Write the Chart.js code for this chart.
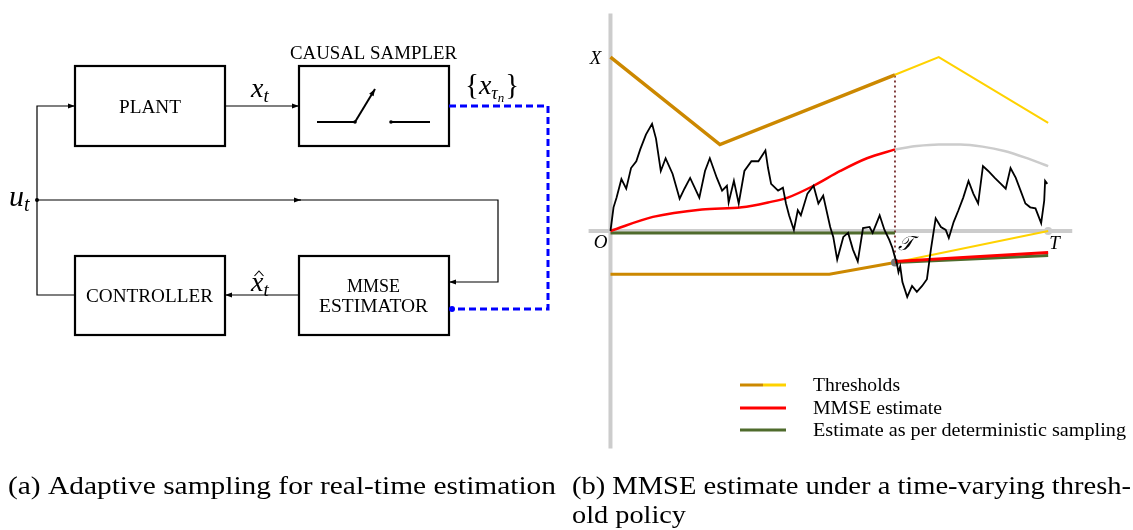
<!DOCTYPE html>
<html>
<head>
<meta charset="utf-8">
<script src="https://cdn.jsdelivr.net/npm/chart.js@4.4.1/dist/chart.umd.min.js"></script>
<style>
  html, body { margin: 0; padding: 0; background: #fff; }
  #wrap { position: relative; width: 1133px; height: 530px; overflow: hidden; }
  #bg { position: absolute; left: 0; top: 0; }
  #chartBox { position: absolute; left: 570px; top: 0; width: 563px; height: 460px; }
</style>
</head>
<body>
<div id="wrap">
<canvas id="bg" width="1133" height="530"></canvas>
<div id="chartBox"><canvas id="myChart" width="563" height="460"></canvas></div>
</div>

<script>
// time axis runs 0 (O) .. 1 (T), values scaled so the threshold start X = 1
const tau = 0.65;

// thresholds, before tau (dark) and after tau (light)
const upperDarkT = [0, 0.25, tau];
const upperDarkV = [1.0, 0.497, 0.898];
const upperLightT = [tau, 0.75, 1.0];
const upperLightV = [0.898, 1.0, 0.622];
const lowerDarkT = [0, 0.5, tau];
const lowerDarkV = [-0.249, -0.249, -0.181];
const lowerLightT = [tau, 1.0];
const lowerLightV = [-0.181, 0];

// MMSE estimate before the sample, and its (unused) continuation
const mmseT = [0, 0.097, 0.209, 0.3, 0.36, 0.405, 0.464, 0.525, 0.586, tau];
const mmseV = [0, 0.081, 0.124, 0.136, 0.164, 0.192, 0.26, 0.345, 0.418, 0.469];
const mmseGhostT = [tau, 0.7, 0.75, 0.8, 0.85, 0.9, 0.95, 1.0];
const mmseGhostV = [0.469, 0.488, 0.497, 0.497, 0.485, 0.46, 0.42, 0.373];

// estimates after the sample at tau
const mmseAfterT = [tau, 1.0];
const mmseAfterV = [-0.175, -0.124];
const detBeforeT = [0, tau];
const detBeforeV = [-0.012, -0.012];
const detAfterT = [tau, 1.0];
const detAfterV = [-0.181, -0.141];

// the process path x_t
const pathT = [0, 0.007, 0.014, 0.025, 0.036, 0.047, 0.059, 0.068, 0.081, 0.095, 0.104, 0.115, 0.126, 0.142,
  0.158, 0.169, 0.182, 0.203, 0.216, 0.227, 0.243, 0.255, 0.266, 0.270, 0.282, 0.293, 0.306, 0.322, 0.338,
  0.354, 0.360, 0.367, 0.383, 0.394, 0.401, 0.408, 0.419, 0.428, 0.435, 0.450, 0.464, 0.475, 0.486, 0.502,
  0.509, 0.518, 0.532, 0.543, 0.554, 0.565, 0.577, 0.592, 0.599, 0.615, 0.626, 0.637, 0.644, 0.651, 0.653,
  0.658, 0.662, 0.667, 0.678, 0.689, 0.700, 0.712, 0.723, 0.732, 0.743, 0.755, 0.766, 0.773, 0.784, 0.795,
  0.806, 0.818, 0.829, 0.840, 0.851, 0.863, 0.878, 0.892, 0.903, 0.914, 0.926, 0.937, 0.948, 0.959, 0.971,
  0.984, 0.991, 0.993, 0.998];
const pathV = [0, 0.136, 0.192, 0.299, 0.243, 0.362, 0.401, 0.469, 0.554, 0.616, 0.531, 0.345, 0.418, 0.328,
  0.186, 0.243, 0.305, 0.192, 0.345, 0.418, 0.305, 0.232, 0.260, 0.164, 0.288, 0.158, 0.345, 0.401, 0.401,
  0.463, 0.362, 0.271, 0.232, 0.249, 0.158, 0.090, 0.006, 0.119, 0.090, 0.215, 0.260, 0.158, 0.203, 0.023,
  -0.034, -0.164, -0.034, -0.011, -0.107, -0.175, 0.017, 0.023, -0.011, 0.090, 0.006, -0.051, -0.096, -0.16, -0.17,
  -0.237, -0.203, -0.294, -0.379, -0.316, -0.350, -0.316, -0.277, -0.107, 0.073, 0.023, 0.006, -0.040, 0.051, 0.119,
  0.192, 0.288, 0.215, 0.158, 0.373, 0.345, 0.305, 0.271, 0.243, 0.362, 0.305, 0.232, 0.158, 0.136, 0.130,
  0.045, 0.175, 0.288, 0.271];

// axes drawn as thick grey lines
const axisVT = [0, 0];
const axisVV = [-1.25, 1.25];
const axisHT = [-0.05, 1.055];
const axisHV = [0, 0];

const legendLabels = ["Thresholds", "MMSE estimate", "Estimate as per deterministic sampling"];

const DARK = "#cc8800";
const LIGHT = "#ffd200";
const RED = "#ff0000";
const GREEN = "#4f6b2c";
const GREY = "#cccccc";
const SERIF = '"Liberation Serif", "DejaVu Serif", serif';

// ---------- block diagram (a) and captions, plain canvas ----------
const g = document.getElementById("bg").getContext("2d");

function fitText(s, x, y, w, size, italic) {
  g.font = (italic ? "italic " : "") + size + "px " + SERIF;
  const m = g.measureText(s).width;
  g.save();
  g.translate(x, y);
  g.scale(w / m, 1);
  g.fillText(s, 0, 0);
  g.restore();
}

function wire(points, arrow) {
  g.beginPath();
  g.moveTo(points[0][0], points[0][1]);
  for (let i = 1; i < points.length; i++) g.lineTo(points[i][0], points[i][1]);
  g.stroke();
  if (arrow) {
    const [x1, y1] = points[points.length - 2];
    const [x2, y2] = points[points.length - 1];
    const a = Math.atan2(y2 - y1, x2 - x1);
    g.beginPath();
    g.moveTo(x2, y2);
    g.lineTo(x2 - 7 * Math.cos(a) + 2.6 * Math.sin(a), y2 - 7 * Math.sin(a) - 2.6 * Math.cos(a));
    g.lineTo(x2 - 7 * Math.cos(a) - 2.6 * Math.sin(a), y2 - 7 * Math.sin(a) + 2.6 * Math.cos(a));
    g.closePath();
    g.fill();
  }
}

g.fillStyle = "#000";
g.strokeStyle = "#000";
g.lineWidth = 2.2;
[[75, 66, 150, 80], [299, 66, 150, 80], [75, 256, 150, 79], [299, 256, 150, 79]].forEach(r => g.strokeRect(...r));

g.lineWidth = 1.2;
wire([[75, 295], [37, 295], [37, 106], [75, 106]], true);
wire([[225, 106], [299, 106]], true);
wire([[37, 200], [301, 200]], true);
wire([[299, 200], [498, 200], [498, 282], [449, 282]], true);
wire([[299, 295], [225, 295]], true);
g.beginPath(); g.arc(37, 200, 2, 0, 2 * Math.PI); g.fill();

// sampled channel
g.save();
g.strokeStyle = "#0000ff";
g.fillStyle = "#0000ff";
g.lineWidth = 3;
g.setLineDash([7, 4]);
wire([[449, 106], [548, 106], [548, 309], [453, 309]], false);
g.setLineDash([]);
g.beginPath(); g.arc(452, 309, 3, 0, 2 * Math.PI); g.fill();
g.restore();

// switch symbol
g.lineWidth = 2;
wire([[317, 122], [355, 122]], false);
wire([[391, 122], [430, 122]], false);
wire([[355, 122], [375, 89]], true);
g.beginPath(); g.arc(355, 122, 1.8, 0, 2 * Math.PI); g.fill();
g.beginPath(); g.arc(391, 122, 1.8, 0, 2 * Math.PI); g.fill();

// block labels
g.textBaseline = "alphabetic";
fitText("CAUSAL SAMPLER", 290, 59, 167, 18);
fitText("PLANT", 119, 113, 62, 19);
fitText("CONTROLLER", 86, 302, 127, 19);
fitText("MMSE", 347, 292, 53, 19);
fitText("ESTIMATOR", 319, 312, 109, 19);

// math labels
function sub(base, s, x, y, size, ssize) {
  g.font = "italic " + size + "px " + SERIF;
  g.fillText(base, x, y);
  const w = g.measureText(base).width;
  g.font = "italic " + ssize + "px " + SERIF;
  g.fillText(s, x + w, y + size * 0.18);
  return x + w + g.measureText(s).width;
}
sub("x", "t", 251, 97, 28, 19);
sub("x", "t", 251, 291, 28, 19);
g.lineWidth = 1.1;
wire([[254.5, 276], [259, 271], [263.5, 276]], false);
sub("u", "t", 9, 206, 30, 20);

g.font = "29px " + SERIF;
g.fillText("{", 465, 94);
let cx = 465 + g.measureText("{").width;
cx = sub("x", "τ", cx, 94, 28, 18);
g.font = "italic 13px " + SERIF;
g.fillText("n", cx, 102);
cx += g.measureText("n").width + 1;
g.font = "29px " + SERIF;
g.fillText("}", cx, 94);

// captions
fitText("(a) Adaptive sampling for real-time estimation", 8, 494, 548, 26);
fitText("(b) MMSE estimate under a time-varying thresh-", 572, 494, 559, 26);
fitText("old policy", 572, 523, 114, 26);

// ---------- chart (b) ----------
function pts(ts, vs) {
  return ts.map((t, i) => ({ x: t, y: vs[i] }));
}

function line(data, color, width, order, extra) {
  return Object.assign({
    data: data,
    showLine: true,
    borderColor: color,
    backgroundColor: color,
    borderWidth: width,
    pointRadius: 0,
    tension: 0,
    fill: false,
    order: order,
  }, extra || {});
}

// text labels and legend drawn on top
const labelPlugin = {
  id: "labels",
  afterDatasetsDraw(chart) {
    const { ctx, scales: { x, y } } = chart;
    ctx.save();
    ctx.fillStyle = "#000";
    ctx.font = "italic 19px " + SERIF;
    ctx.textBaseline = "alphabetic";
    ctx.textAlign = "right";
    ctx.fillText("X", x.getPixelForValue(0) - 9, y.getPixelForValue(1) + 7);
    ctx.fillText("O", x.getPixelForValue(0) - 3, y.getPixelForValue(0) + 17);
    ctx.textAlign = "left";
    ctx.font = "italic 20px " + SERIF;
    ctx.fillText("\u{1D4AF}", x.getPixelForValue(tau) + 3, y.getPixelForValue(0) + 19);
    ctx.font = "italic 19px " + SERIF;
    ctx.fillText("T", x.getPixelForValue(1) + 1, y.getPixelForValue(0) + 18);

    // legend
    const lx = 170, rows = [385, 408, 430];
    ctx.lineWidth = 3;
    ctx.lineCap = "butt";
    const seg = (x0, x1, yy, c) => {
      ctx.strokeStyle = c;
      ctx.beginPath();
      ctx.moveTo(x0, yy);
      ctx.lineTo(x1, yy);
      ctx.stroke();
    };
    seg(lx, lx + 23, rows[0], DARK);
    seg(lx + 23, lx + 46, rows[0], LIGHT);
    seg(lx, lx + 46, rows[1], RED);
    seg(lx, lx + 46, rows[2], GREEN);

    ctx.font = "18px " + SERIF;
    ctx.textBaseline = "middle";
    const targets = [87, 129, 313];
    legendLabels.forEach((s, i) => {
      const w = ctx.measureText(s).width;
      ctx.save();
      ctx.translate(lx + 73, rows[i] + 1);
      ctx.scale(targets[i] / w, 1);
      ctx.fillText(s, 0, 0);
      ctx.restore();
    });
    ctx.restore();
  }
};

new Chart(document.getElementById("myChart"), {
  type: "scatter",
  data: {
    datasets: [
      line(pts(pathT, pathV), "#000", 1.8, 1),
      line(pts(mmseAfterT, mmseAfterV), RED, 3, 2),
      line(pts(detAfterT, detAfterV), GREEN, 3, 3),
      line(pts([tau], [-0.181]), "#777", 0, 4, { showLine: false, pointRadius: 4, pointBackgroundColor: "#777", pointBorderWidth: 0 }),
      line(pts(mmseT, mmseV), RED, 2.5, 5, { cubicInterpolationMode: "monotone" }),
      line(pts(mmseGhostT, mmseGhostV), GREY, 2.5, 6, { cubicInterpolationMode: "monotone" }),
      line(pts(upperDarkT, upperDarkV), DARK, 3.5, 7),
      line(pts(upperLightT, upperLightV), LIGHT, 2, 8),
      line(pts(lowerDarkT, lowerDarkV), DARK, 3, 7),
      line(pts(lowerLightT, lowerLightV), LIGHT, 2, 8),
      line(pts(detBeforeT, detBeforeV), GREEN, 3, 9),
      line(pts([tau, tau], [-0.181, 0.898]), "#5a0000", 1.5, 10, { borderDash: [2, 3] }),
      line(pts([1], [0]), GREY, 0, 11, { showLine: false, pointRadius: 4, pointBackgroundColor: GREY, pointBorderWidth: 0 }),
      line(pts(axisVT, axisVV), GREY, 4, 12),
      line(pts(axisHT, axisHV), GREY, 4, 12),
    ],
  },
  options: {
    responsive: false,
    animation: false,
    layout: { padding: 0 },
    plugins: { legend: { display: false }, tooltip: { enabled: false } },
    scales: {
      x: { type: "linear", display: false, min: -37 / 444, max: 526 / 444 },
      y: { type: "linear", display: false, min: -229 / 177, max: 231 / 177 },
    },
  },
  plugins: [labelPlugin],
});
</script>
</body>
</html>
